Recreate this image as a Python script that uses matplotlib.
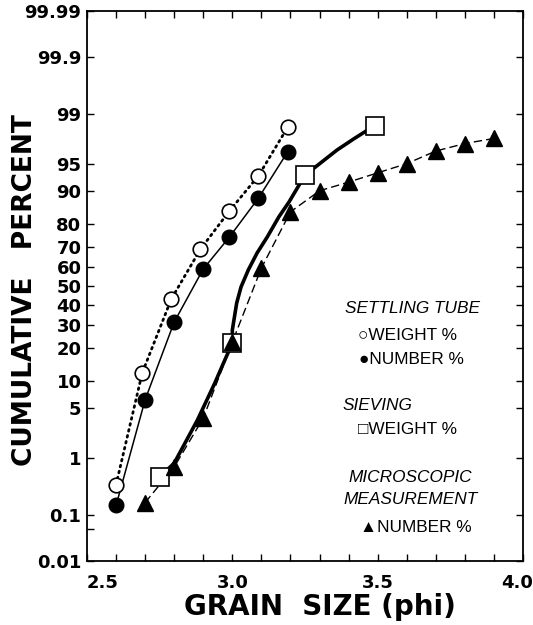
from statistics import NormalDist

import matplotlib.pyplot as plt
import numpy as np
from matplotlib.ticker import MultipleLocator
from matplotlib.transforms import ScaledTranslation


OUTPUT_FILE = "out.png"

# settling tube, weight % (open circles, dotted)
SETTLING_WEIGHT_PHI = [2.60, 2.69, 2.79, 2.89, 2.99, 3.09, 3.19]
SETTLING_WEIGHT_PCT = [0.36, 12.0, 43.0, 69.0, 84.5, 93.2, 98.4]

# settling tube, number % (filled circles, thin solid)
SETTLING_NUMBER_PHI = [2.60, 2.70, 2.80, 2.90, 2.99, 3.09, 3.19]
SETTLING_NUMBER_PCT = [0.15, 6.2, 31.3, 59.1, 74.6, 88.3, 96.5]

# sieving, weight % (open squares)
SIEVING_PHI = [2.75, 3.00, 3.25, 3.49]
SIEVING_PCT = [0.49, 22.0, 93.3, 98.5]

# hand-drawn curve through the sieving points
SIEVING_CURVE_PHI = [2.75, 2.80, 2.88, 2.94, 2.974, 3.00, 3.00, 3.015,
                     3.03, 3.055, 3.085, 3.12, 3.16, 3.195, 3.225, 3.25,
                     3.36, 3.42, 3.49]
SIEVING_CURVE_PCT = [0.49, 0.83, 3.5, 9.5, 15.8, 22.0, 27.6, 40.9,
                     49.5, 58.6, 67.2, 74.6, 82.5, 87.2, 90.9, 93.3,
                     96.7, 97.7, 98.5]

# microscopic measurement, number % (filled triangles, dashed)
MICRO_PHI = [2.7, 2.8, 2.9, 3.0, 3.1, 3.2, 3.3, 3.4, 3.5, 3.6, 3.7, 3.8, 3.9]
MICRO_PCT = [0.17, 0.72, 3.7, 22.4, 59.6, 84.2, 90.1, 92.0, 93.7,
             95.1, 96.6, 97.3, 97.7]

Y_TICKS = [0.01, 0.1, 1, 5, 10, 20, 30, 40, 50, 60, 70, 80, 90, 95, 99,
           99.9, 99.99]
Y_TICK_LABELS = ["0.01", "0.1", "1", "5", "10", "20", "30", "40", "50",
                 "60", "70", "80", "90", "95", "99", "99.9", "99.99"]
X_TICKS = [2.5, 3.0, 3.5, 4.0]
X_TICK_LABELS = ["2.5", "3.0", "3.5", "4.0"]

STANDARD_NORMAL = NormalDist()


def probit(percent):
    fraction = np.clip(np.asarray(percent, dtype=float) / 100.0, 1e-7, 1 - 1e-7)
    return np.vectorize(STANDARD_NORMAL.inv_cdf, otypes=[float])(fraction)


def inverse_probit(z):
    z = np.asarray(z, dtype=float)
    return 100.0 * np.vectorize(STANDARD_NORMAL.cdf, otypes=[float])(z)


def main() -> None:
    plt.rcParams["font.family"] = ["Liberation Sans", "DejaVu Sans"]

    figure = plt.figure(figsize=(5.33, 6.25), dpi=100)
    axis = figure.add_axes([87 / 533, 1 - 561 / 625, 436 / 533, 550 / 625])

    axis.set_yscale("function", functions=(probit, inverse_probit))
    axis.set_xlim(2.5, 4.0)
    axis.set_ylim(0.01, 99.99)

    # connecting lines
    axis.plot(SETTLING_WEIGHT_PHI, SETTLING_WEIGHT_PCT, color="black",
              linestyle=(0, (0.6, 1.6)), linewidth=2.0,
              dash_capstyle="round", zorder=2)
    axis.plot(SETTLING_NUMBER_PHI, SETTLING_NUMBER_PCT, color="black",
              linewidth=1.1, zorder=2)
    axis.plot(SIEVING_CURVE_PHI, SIEVING_CURVE_PCT, color="black",
              linewidth=2.6, solid_capstyle="round",
              solid_joinstyle="round", zorder=2)
    axis.plot(MICRO_PHI, MICRO_PCT, color="black", linewidth=1.0,
              linestyle=(0, (6, 3)), zorder=2)

    # markers
    axis.plot(SIEVING_PHI, SIEVING_PCT, linestyle="none", marker="s",
              markersize=13, markerfacecolor="white",
              markeredgecolor="black", markeredgewidth=1.2, zorder=3)
    axis.plot(MICRO_PHI, MICRO_PCT, linestyle="none", marker="^",
              markersize=11.5, color="black", zorder=4)
    axis.plot(SETTLING_WEIGHT_PHI, SETTLING_WEIGHT_PCT, linestyle="none",
              marker="o", markersize=10.5, markerfacecolor="white",
              markeredgecolor="black", markeredgewidth=1.2, zorder=4)
    axis.plot(SETTLING_NUMBER_PHI, SETTLING_NUMBER_PCT, linestyle="none",
              marker="o", markersize=10.5, color="black", zorder=4)

    # ticks
    axis.set_xticks(X_TICKS, labels=X_TICK_LABELS)
    axis.xaxis.set_minor_locator(MultipleLocator(0.1))
    axis.set_yticks(Y_TICKS, labels=Y_TICK_LABELS)
    axis.set_yticks([0.05], minor=True)
    axis.tick_params(which="both", direction="in", length=5, width=1.0,
                     top=True, right=True)
    axis.tick_params(axis="y", which="minor", right=False)
    axis.tick_params(axis="y", which="major", pad=4)
    axis.tick_params(axis="x", which="major", pad=9)

    for label in axis.get_xticklabels() + axis.get_yticklabels():
        label.set_fontfamily("DejaVu Sans")
        label.set_fontsize(13)
        label.set_fontweight("bold")

    x_labels = axis.get_xticklabels()
    x_labels[0].set_horizontalalignment("left")
    x_labels[-1].set_horizontalalignment("right")
    x_labels[-1].set_transform(
        x_labels[-1].get_transform()
        + ScaledTranslation(7 / 72, 0, figure.dpi_scale_trans)
    )

    for spine in axis.spines.values():
        spine.set_linewidth(1.3)

    axis.set_ylabel("CUMULATIVE   PERCENT", fontsize=19, fontweight="bold",
                    family="DejaVu Sans", va="center")
    axis.yaxis.set_label_coords(-0.142, 0.493)
    axis.set_xlabel("GRAIN  SIZE (phi)", fontsize=20, fontweight="bold",
                    family="DejaVu Sans", va="center")
    axis.xaxis.set_label_coords(0.534, -0.084)

    legend_lines = [
        ("SETTLING TUBE", "italic", 345, 309),
        ("\u25cbWEIGHT %", "normal", 358, 335),
        ("\u25cfNUMBER %", "normal", 359, 359),
        ("SIEVING", "italic", 343, 406),
        ("\u25a1WEIGHT %", "normal", 358, 430),
        ("MICROSCOPIC", "italic", 348, 478),
        ("MEASUREMENT", "italic", 343, 500),
        ("\u25b2NUMBER %", "normal", 360, 527),
    ]
    for text, style, x_pixel, y_pixel in legend_lines:
        figure.text(x_pixel / 533, 1 - y_pixel / 625, text, fontsize=12.4,
                    fontstyle=style, ha="left", va="center")

    figure.savefig(OUTPUT_FILE, dpi=100)
    plt.close(figure)


if __name__ == "__main__":
    main()
